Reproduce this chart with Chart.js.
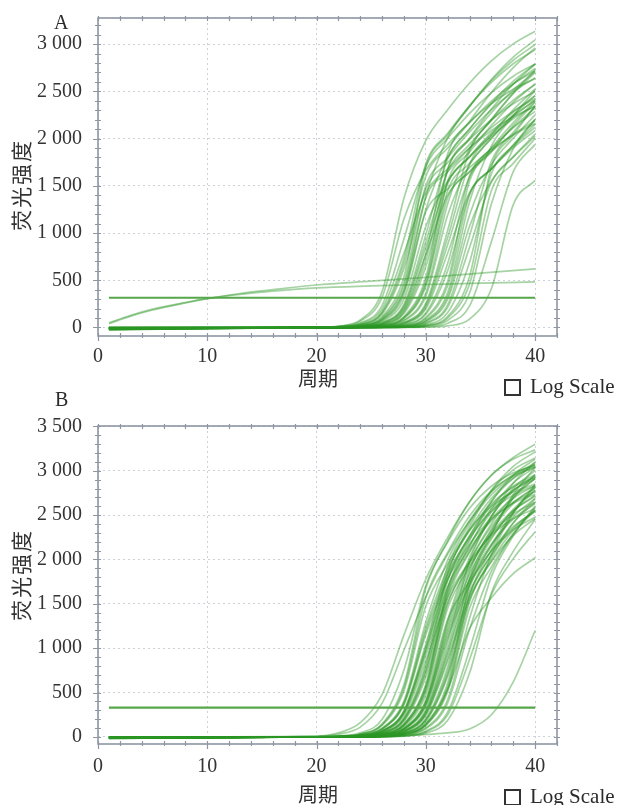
<!DOCTYPE html>
<html>
<head>
<meta charset="utf-8">
<script src="https://cdn.jsdelivr.net/npm/chart.js@4.4.1/dist/chart.umd.min.js"></script>
<style>
  body { margin: 0; background: #fff; }
  #page { position: relative; width: 618px; height: 805px; overflow: hidden; background: #fff;
          font-family: "Liberation Serif", "Times New Roman", serif; color: #2b2b2b; }
  canvas { position: absolute; left: 0; }
  #chartA { top: 0; }
  #chartB { top: 400px; }
  .tag { position: absolute; font-size: 20px; line-height: 1; }
  .xtitle, .ytitle { position: absolute; font-family: "Noto Sans CJK SC", sans-serif; font-size: 20px;
                     line-height: 1; white-space: nowrap; color: #333; }
  .xtitle { transform: translate(-50%, -50%); }
  .ytitle { transform: translate(-50%, -50%) rotate(-90deg); letter-spacing: 2px; font-size: 21px; }
  .logscale { position: absolute; font-size: 21px; line-height: 1; white-space: nowrap; }
  .logscale .box { position: absolute; left: -26px; top: 3px; width: 13px; height: 13px; border: 2px solid #333; }
</style>
</head>
<body>
<div id="page">
  <canvas id="chartA" width="618" height="400"></canvas>
  <canvas id="chartB" width="618" height="405"></canvas>

  <div class="tag" style="left:54px; top:12px;">A</div>
  <div class="tag" style="left:55px; top:389px;">B</div>

  <div class="ytitle" style="left:20px; top:185px;">荧光强度</div>
  <div class="ytitle" style="left:20px; top:575px;">荧光强度</div>

  <div class="xtitle" style="left:318px; top:378px;">周期</div>
  <div class="xtitle" style="left:318px; top:794px;">周期</div>

  <div class="logscale" style="left:530px; top:376px;"><span class="box"></span>Log Scale</div>
  <div class="logscale" style="left:530px; top:786px;"><span class="box"></span>Log Scale</div>
</div>

<script>
// ---- data ----
const CYCLES = [1, 20, 22, 24, 26, 28, 30, 32, 34, 36, 38, 40];
const DRIFT_CYCLES = [1, 3, 5, 8, 10, 13, 16, 20, 25, 30, 35, 40];
const X_TICKS = [0, 10, 20, 30, 40];
const Y_TICKS_A = [0, 500, 1000, 1500, 2000, 2500, 3000];
const Y_TICKS_B = [0, 500, 1000, 1500, 2000, 2500, 3000, 3500];
const THRESHOLD_A = 315;
const THRESHOLD_B = 330;

// A: two slowly drifting wells
const A_DRIFT = [
  [50, 130, 195, 265, 305, 350, 385, 420, 440, 455, 470, 482],
  [40, 120, 185, 260, 305, 360, 400, 450, 490, 530, 575, 620],
];

// A: amplification curves, values at CYCLES
const A_CURVES = [
  [-20, 3, 15, 79, 382, 1370, 1980, 2305, 2588, 2822, 3002, 3136],
  [-10, 2, 9, 47, 235, 939, 1705, 2003, 2266, 2486, 2660, 2790],
  [-5, 2, 8, 40, 197, 788, 1430, 1680, 1901, 2085, 2231, 2340],
  [-15, 1, 6, 33, 169, 736, 1733, 2056, 2346, 2594, 2792, 2940],
  [0, 1, 5, 28, 144, 624, 1470, 1744, 1991, 2201, 2369, 2495],
  [-25, 1, 4, 20, 103, 477, 1500, 1797, 2070, 2307, 2496, 2643],
  [-10, 1, 4, 23, 117, 541, 1700, 2037, 2346, 2615, 2829, 2995],
  [5, 0, 3, 16, 84, 390, 1225, 1468, 1691, 1884, 2038, 2158],
  [-18, 0, 3, 14, 72, 349, 1251, 1808, 2104, 2363, 2577, 2741],
  [-8, 0, 2, 12, 62, 299, 1072, 1550, 1804, 2025, 2209, 2349],
  [-12, 0, 2, 9, 46, 228, 909, 1650, 1938, 2193, 2406, 2574],
  [-22, 0, 2, 9, 50, 247, 985, 1788, 2100, 2376, 2607, 2789],
  [0, 0, 2, 7, 39, 194, 773, 1403, 1647, 1864, 2045, 2188],
  [-6, 0, 1, 6, 29, 149, 647, 1523, 1807, 2062, 2279, 2453],
  [-16, 0, 1, 6, 32, 164, 714, 1680, 1994, 2275, 2515, 2707],
  [-10, 0, 1, 4, 21, 107, 493, 1550, 1857, 2139, 2384, 2579],
  [-3, 0, 1, 4, 18, 95, 437, 1375, 1647, 1898, 2115, 2288],
  [-14, 0, 0, 3, 13, 69, 332, 1191, 1722, 2004, 2250, 2454],
  [-20, 0, 0, 3, 15, 76, 365, 1310, 1894, 2204, 2475, 2699],
  [-9, 0, 0, 2, 8, 44, 220, 879, 1595, 1873, 2120, 2326],
  [-12, 0, 0, 2, 9, 48, 239, 954, 1733, 2035, 2303, 2526],
  [-5, 0, 0, 1, 6, 31, 156, 680, 1601, 1900, 2169, 2397],
  [2, 0, 0, 1, 5, 27, 139, 602, 1418, 1682, 1920, 2122],
  [-15, 0, 0, 1, 4, 21, 107, 493, 1550, 1857, 2139, 2384],
  [-7, 0, 0, 1, 4, 19, 96, 445, 1400, 1677, 1932, 2153],
  [-11, 0, 0, 0, 3, 13, 69, 332, 1191, 1722, 2004, 2250],
  [-18, 0, 0, 0, 2, 9, 49, 243, 970, 1760, 2067, 2339],
  [-4, 0, 0, 0, 2, 8, 43, 213, 848, 1540, 1809, 2047],
  [-13, 0, 0, 0, 1, 6, 31, 159, 691, 1628, 1931, 2204],
  [-8, 0, 0, 0, 1, 4, 19, 100, 461, 1450, 1737, 2001],
  [-20, 0, 0, 0, 0, 3, 15, 76, 365, 1310, 1894, 2204],
  [-6, 0, 0, 0, 0, 2, 9, 46, 228, 909, 1650, 1938],
  [-10, 0, 0, 0, 0, 0, 3, 17, 89, 413, 1300, 1557],
  [-14, 0, 3, 15, 81, 388, 1390, 2009, 2338, 2625, 2863, 3045],
  [-9, 0, 1, 7, 35, 180, 781, 1838, 2181, 2489, 2751, 2961],
  [-17, 0, 0, 0, 1, 4, 23, 117, 541, 1700, 2037, 2346],
  [-2, 2, 13, 67, 321, 1151, 1665, 1937, 2175, 2372, 2523, 2636],
  [-11, 0, 0, 2, 8, 40, 197, 788, 1430, 1680, 1901, 2085],
  [-19, 0, 0, 0, 3, 15, 77, 371, 1330, 1923, 2238, 2513],
  [-7, 0, 1, 4, 23, 116, 533, 1675, 2006, 2312, 2576, 2787],
  [-12, 0, 2, 8, 43, 213, 848, 1540, 1809, 2046, 2245, 2402],
  [-4, 0, 1, 4, 20, 100, 461, 1450, 1737, 2001, 2229, 2411],
  [-16, 0, 0, 2, 9, 52, 258, 1030, 1870, 2195, 2485, 2726],
  [-8, 1, 4, 18, 94, 437, 1375, 1648, 1898, 2115, 2289, 2424],
  [-3, 0, 0, 0, 3, 12, 62, 299, 1072, 1550, 1804, 2025],
  [-21, 1, 6, 30, 156, 680, 1601, 1900, 2168, 2397, 2580, 2717],
];

// B: amplification curves, values at CYCLES
const B_CURVES = [
  [-10, 2, 10, 45, 198, 756, 1707, 2196, 2577, 2826, 2977, 3059],
  [-5, 2, 7, 33, 147, 593, 1675, 2214, 2650, 2951, 3132, 3236],
  [-15, 1, 6, 29, 130, 522, 1475, 1950, 2333, 2599, 2758, 2850],
  [0, 1, 5, 21, 98, 408, 1296, 1994, 2442, 2758, 2957, 3072],
  [-8, 1, 4, 19, 87, 363, 1154, 1776, 2175, 2457, 2633, 2736],
  [-12, 1, 3, 14, 65, 281, 983, 1807, 2266, 2607, 2827, 2954],
  [-3, 1, 3, 12, 56, 244, 856, 1574, 1974, 2271, 2462, 2573],
  [-18, 1, 3, 15, 69, 299, 1046, 1924, 2412, 2775, 3010, 3145],
  [-6, 0, 2, 9, 43, 189, 720, 1626, 2091, 2454, 2691, 2835],
  [-10, 0, 2, 10, 46, 205, 780, 1762, 2265, 2659, 2915, 3071],
  [2, 0, 2, 9, 40, 176, 672, 1518, 1952, 2290, 2512, 2646],
  [-14, 0, 1, 7, 31, 139, 558, 1575, 2082, 2492, 2775, 2945],
  [-7, 0, 1, 6, 28, 128, 513, 1450, 1917, 2294, 2555, 2712],
  [-16, 0, 2, 7, 33, 147, 593, 1675, 2214, 2650, 2951, 3132],
  [-4, 0, 1, 4, 20, 93, 389, 1235, 1900, 2327, 2629, 2818],
  [-11, 0, 1, 5, 22, 99, 414, 1316, 2025, 2480, 2802, 3003],
  [-2, 0, 1, 4, 18, 84, 351, 1114, 1713, 2098, 2371, 2541],
  [-13, 0, 1, 3, 15, 67, 290, 1014, 1866, 2339, 2691, 2918],
  [-9, 0, 1, 3, 14, 62, 267, 935, 1720, 2156, 2481, 2690],
  [-17, 0, 1, 3, 16, 71, 308, 1078, 1982, 2485, 2859, 3101],
  [-5, 0, 0, 2, 10, 44, 195, 744, 1680, 2161, 2536, 2781],
  [1, 0, 0, 2, 9, 41, 180, 684, 1545, 1986, 2331, 2556],
  [-12, 0, 0, 2, 10, 47, 208, 792, 1789, 2300, 2699, 2960],
  [-8, 0, 0, 1, 7, 31, 141, 566, 1600, 2115, 2531, 2819],
  [-3, 0, 0, 1, 6, 28, 128, 513, 1450, 1917, 2294, 2555],
  [-15, 0, 0, 2, 7, 34, 152, 611, 1725, 2280, 2729, 3039],
  [-6, 0, 0, 1, 4, 20, 92, 383, 1215, 1869, 2289, 2586],
  [-10, 0, 0, 1, 5, 22, 101, 421, 1337, 2056, 2518, 2845],
  [-4, 0, 0, 1, 3, 14, 65, 281, 983, 1807, 2266, 2607],
  [0, 0, 0, 1, 3, 13, 57, 249, 872, 1603, 2010, 2313],
  [-9, 0, 0, 0, 2, 9, 43, 189, 720, 1626, 2091, 2454],
  [-14, 1, 4, 20, 93, 389, 1235, 1900, 2327, 2629, 2818, 2928],
  [-7, 1, 3, 13, 61, 262, 919, 1691, 2120, 2439, 2645, 2764],
  [-1, 0, 1, 6, 26, 117, 469, 1325, 1752, 2096, 2335, 2478],
  [-11, 0, 1, 3, 12, 56, 244, 856, 1574, 1974, 2271, 2462],
  [-16, 0, 2, 11, 49, 214, 816, 1843, 2370, 2781, 3050, 3213],
  [-5, 0, 1, 4, 20, 90, 376, 1195, 1838, 2251, 2543, 2726],
  [-13, 0, 1, 3, 14, 64, 276, 967, 1778, 2230, 2565, 2782],
  [-8, 1, 3, 14, 64, 276, 967, 1778, 2230, 2565, 2782, 2907],
  [-2, 0, 1, 6, 29, 132, 531, 1500, 1983, 2373, 2643, 2805],
  [-12, 2, 7, 31, 138, 557, 1575, 2081, 2491, 2774, 2944, 3042],
  [-6, 0, 2, 9, 44, 195, 744, 1680, 2160, 2535, 2780, 2929],
  [-9, 0, 1, 4, 21, 96, 402, 1276, 1963, 2404, 2716, 2911],
  [-3, 0, 1, 3, 13, 59, 254, 887, 1633, 2047, 2355, 2553],
  [-14, 0, 0, 2, 10, 42, 186, 708, 1599, 2057, 2414, 2647],
  [-7, 0, 0, 1, 7, 30, 134, 539, 1525, 2016, 2412, 2687],
  [-11, 1, 3, 14, 67, 290, 1014, 1865, 2339, 2690, 2918, 3048],
  [-4, 0, 1, 7, 32, 143, 576, 1625, 2149, 2572, 2864, 3039],
  [-15, 1, 5, 19, 90, 376, 1195, 1838, 2251, 2543, 2726, 2832],
  [-1, 0, 1, 4, 19, 87, 363, 1154, 1775, 2174, 2456, 2632],
  [-10, 0, 0, 1, 7, 32, 142, 540, 1220, 1569, 1841, 2019],
  [-12, 8, 45, 160, 480, 1150, 1780, 2250, 2650, 2950, 3150, 3300],
  [-6, 5, 30, 110, 380, 980, 1580, 2060, 2430, 2730, 2940, 3090],
  [-4, 0, 0, 2, 5, 12, 28, 45, 90, 250, 620, 1200],
];

// ---- styling ----
const CURVE_COLOR = "rgba(44, 150, 36, 0.42)";
const THRESHOLD_COLOR = "rgb(86, 166, 74)";
const FRAME_COLOR = "#8e96a3";
const GRID_COLOR = "#cdd2d9";
const TICK_FONT = { family: "'Liberation Serif', 'Times New Roman', serif", size: 20 };

const toPoints = (xs, ys) => xs.map((x, i) => ({ x, y: ys[i] }));
const fmtTick = v => v >= 1000 ? `${Math.floor(v / 1000)} ${String(v % 1000).padStart(3, "0")}` : String(v);

function curveSet(rows, xs) {
  return rows.map(r => ({
    data: toPoints(xs, r),
    borderColor: CURVE_COLOR,
    borderWidth: 1.7,
    cubicInterpolationMode: "monotone",
  }));
}

// frame with minor tick marks on all four sides
const frameTicks = {
  id: "frameTicks",
  afterDatasetsDraw(chart) {
    const { ctx, chartArea: a, scales: { x, y } } = chart;
    ctx.save();
    ctx.strokeStyle = FRAME_COLOR;
    ctx.lineWidth = 1.6;
    ctx.strokeRect(a.left, a.top, a.right - a.left, a.bottom - a.top);

    ctx.lineWidth = 1.2;
    ctx.beginPath();
    for (let c = 0; c <= x.max; c += 2) {
      const px = Math.round(x.getPixelForValue(c)) + 0.5;
      const big = c % 10 === 0;
      ctx.moveTo(px, a.bottom - 3); ctx.lineTo(px, a.bottom + (big ? 5 : 2));
      ctx.moveTo(px, a.top - 2); ctx.lineTo(px, a.top + 3);
    }
    for (let v = 0; v <= y.max; v += 100) {
      const py = Math.round(y.getPixelForValue(v)) + 0.5;
      const big = v % 500 === 0;
      ctx.moveTo(a.left - (big ? 5 : 3), py); ctx.lineTo(a.left + 3, py);
      ctx.moveTo(a.right - 3, py); ctx.lineTo(a.right + 3, py);
    }
    ctx.stroke();
    ctx.restore();
  },
};

function buildChart(canvasId, { curves, drift, threshold, yMin, yMax, yTicks, top, xHeight, xPad }) {
  const datasets = [
    {
      data: [{ x: 1, y: threshold }, { x: 40, y: threshold }],
      borderColor: THRESHOLD_COLOR,
      borderWidth: 2.2,
    },
    ...curveSet(drift, DRIFT_CYCLES),
    ...curveSet(curves, CYCLES),
  ];

  return new Chart(document.getElementById(canvasId), {
    type: "line",
    data: { datasets },
    options: {
      responsive: false,
      animation: false,
      events: [],
      layout: { padding: { top, right: 61, left: 0, bottom: 0 } },
      elements: { point: { radius: 0 } },
      plugins: { legend: { display: false }, tooltip: { enabled: false } },
      scales: {
        x: {
          type: "linear",
          min: 0,
          max: 42,
          afterBuildTicks: s => { s.ticks = X_TICKS.map(v => ({ value: v })); },
          afterFit: s => { s.height = xHeight; s.paddingLeft = 0; s.paddingRight = 0; },
          grid: { color: GRID_COLOR, lineWidth: 1, drawTicks: false },
          border: { display: false, dash: [2, 3] },
          ticks: { font: TICK_FONT, color: "#333", padding: xPad, maxRotation: 0 },
        },
        y: {
          type: "linear",
          min: yMin,
          max: yMax,
          afterBuildTicks: s => { s.ticks = yTicks.map(v => ({ value: v })); },
          afterFit: s => { s.width = 98; s.paddingTop = 0; s.paddingBottom = 0; },
          grid: { color: GRID_COLOR, lineWidth: 1, drawTicks: false },
          border: { display: false, dash: [2, 3] },
          ticks: { font: TICK_FONT, color: "#333", padding: 16, callback: v => fmtTick(v) },
        },
      },
    },
    plugins: [frameTicks],
  });
}

buildChart("chartA", {
  curves: A_CURVES, drift: A_DRIFT, threshold: THRESHOLD_A,
  yMin: -90, yMax: 3276, yTicks: Y_TICKS_A, top: 18, xHeight: 64, xPad: 9,
});

buildChart("chartB", {
  curves: B_CURVES, drift: [], threshold: THRESHOLD_B,
  yMin: -80, yMax: 3505, yTicks: Y_TICKS_B, top: 26, xHeight: 61, xPad: 11,
});
</script>
</body>
</html>
